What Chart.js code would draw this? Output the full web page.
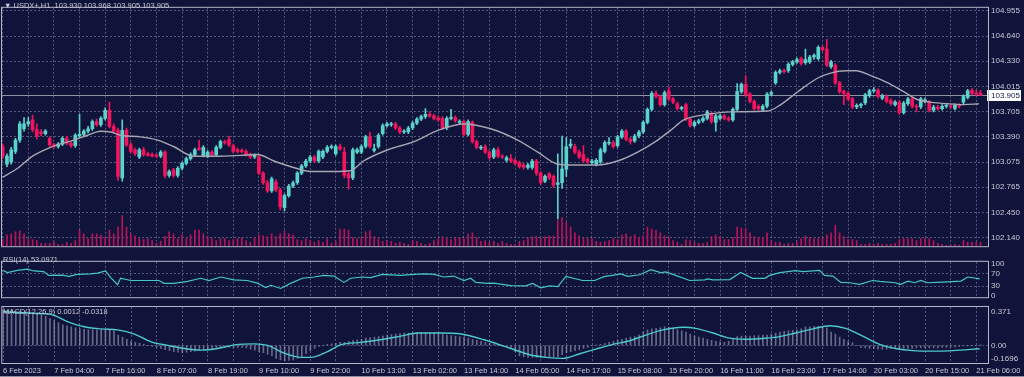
<!DOCTYPE html>
<html lang="en">
<head>
<meta charset="UTF-8">
<title>USDX+ H1</title>
<script src="https://cdn.jsdelivr.net/npm/chart.js"></script>
<style>
  html, body { margin: 0; padding: 0; background: #10133a; }
  #wrap {
    position: relative;
    width: 1024px;
    height: 377px;
    overflow: hidden;
    background: #10133a;
    font-family: "Liberation Sans", Arial, sans-serif;
  }
  #wrap canvas { position: absolute; left: 0; }
  .legend {
    position: absolute;
    color: #c9cad6;
    font-size: 7.5px;
    line-height: 10px;
    white-space: pre;
  }
  .bottom-line { position: absolute; left: 0; top: 376px; width: 1024px; height: 1px; background: #8c8ea4; }
</style>
</head>
<body>
<div id="wrap">
  <canvas id="priceChart" width="1024" height="254" style="top:0;width:1024px;height:254px"></canvas>
  <canvas id="rsiChart" width="1024" height="51" style="top:254px;width:1024px;height:51px"></canvas>
  <canvas id="macdChart" width="1024" height="72" style="top:305px;width:1024px;height:72px"></canvas>
  <div class="legend" style="left:4px;top:1px">▼ USDX+,H1  103.930 103.968 103.905 103.905</div>
  <div class="legend" style="left:3px;top:255px">RSI(14) 53.0971</div>
  <div class="legend" style="left:3px;top:307px">MACD(12,26,9) 0.0012 -0.0318</div>
  <div class="bottom-line"></div>
</div>
<script>
  // ---- data (bar index 0 = 6 Feb 2023) ----
  const xLabels = ["6 Feb 2023", "7 Feb 04:00", "7 Feb 16:00", "8 Feb 07:00", "8 Feb 19:00",
    "9 Feb 10:00", "9 Feb 22:00", "10 Feb 13:00", "13 Feb 02:00", "13 Feb 14:00",
    "14 Feb 05:00", "14 Feb 17:00", "15 Feb 08:00", "15 Feb 20:00", "16 Feb 11:00",
    "16 Feb 23:00", "17 Feb 14:00", "20 Feb 03:00", "20 Feb 15:00", "21 Feb 06:00"];
  const priceTicks = [104.955, 104.640, 104.330, 104.015, 103.705, 103.390, 103.075, 102.765, 102.450, 102.140];
  const rsiTicks = [100, 70, 30, 0];
  const macdTicks = [0.371, 0, -0.1696];
  const macdTickLabels = ["0.371", "0.00", "-0.1696"];

  // [open, high, low, close]
  const ohlc = [
    [103.27,103.30,103.12,103.15],[103.05,103.18,103.02,103.15],[103.08,103.26,103.05,103.23],[103.21,103.37,103.18,103.35],
    [103.35,103.58,103.32,103.55],[103.49,103.63,103.46,103.55],[103.55,103.63,103.52,103.58],[103.60,103.66,103.45,103.48],
    [103.48,103.55,103.36,103.40],[103.45,103.48,103.40,103.43],[103.43,103.48,103.41,103.46],[103.37,103.39,103.27,103.29],
    [103.29,103.31,103.25,103.27],[103.27,103.32,103.25,103.30],[103.30,103.39,103.28,103.37],[103.37,103.40,103.29,103.31],
    [103.31,103.33,103.26,103.28],[103.28,103.43,103.26,103.41],[103.40,103.67,103.38,103.42],[103.42,103.48,103.40,103.46],
    [103.46,103.52,103.44,103.49],[103.49,103.60,103.47,103.58],[103.58,103.61,103.52,103.54],[103.54,103.64,103.52,103.62],
    [103.62,103.75,103.60,103.72],[103.72,103.82,103.50,103.52],[103.52,103.55,103.44,103.46],[103.47,103.50,102.85,102.90],
    [102.88,103.60,102.84,103.47],[103.47,103.50,103.27,103.29],[103.29,103.32,103.19,103.21],[103.23,103.25,103.16,103.18],
    [103.14,103.25,103.12,103.23],[103.23,103.26,103.15,103.17],[103.18,103.20,103.15,103.16],[103.17,103.19,103.14,103.15],
    [103.16,103.18,103.13,103.15],[103.15,103.22,103.13,103.20],[103.20,103.22,102.88,102.91],[102.91,102.98,102.89,102.96],
    [102.98,103.00,102.89,102.91],[102.91,103.02,102.89,103.00],[103.00,103.08,102.98,103.06],[103.06,103.14,103.04,103.12],
    [103.12,103.19,103.10,103.17],[103.17,103.25,103.15,103.23],[103.25,103.35,103.22,103.23],[103.16,103.28,103.14,103.26],
    [103.15,103.22,103.13,103.20],[103.20,103.22,103.15,103.17],[103.17,103.28,103.15,103.26],[103.26,103.35,103.24,103.33],
    [103.33,103.35,103.30,103.32],[103.36,103.40,103.27,103.29],[103.28,103.30,103.19,103.21],[103.23,103.25,103.19,103.21],
    [103.22,103.24,103.19,103.21],[103.21,103.23,103.15,103.17],[103.17,103.19,103.12,103.14],[103.14,103.18,103.12,103.16],
    [103.14,103.16,102.92,102.94],[102.94,102.96,102.80,102.82],[102.82,102.85,102.70,102.72],[102.72,102.89,102.70,102.87],
    [102.83,102.86,102.71,102.73],[102.73,102.75,102.48,102.52],[102.51,102.68,102.47,102.66],[102.66,102.80,102.64,102.78],
    [102.78,102.84,102.76,102.82],[102.82,102.96,102.80,102.94],[102.94,103.05,102.92,103.03],[103.03,103.11,103.01,103.09],
    [103.09,103.16,103.07,103.14],[103.14,103.16,103.07,103.09],[103.09,103.23,103.07,103.21],[103.14,103.23,103.12,103.21],
    [103.21,103.28,103.19,103.26],[103.26,103.29,103.24,103.27],[103.18,103.29,103.16,103.27],[103.27,103.30,103.22,103.24],
    [103.20,103.26,102.88,102.91],[102.93,102.95,102.74,102.88],[102.88,103.25,102.86,103.23],[103.20,103.25,103.18,103.23],
    [103.20,103.29,103.18,103.27],[103.27,103.41,103.25,103.39],[103.39,103.45,103.25,103.27],[103.22,103.30,103.20,103.24],
    [103.27,103.43,103.25,103.41],[103.43,103.55,103.41,103.53],[103.53,103.57,103.51,103.55],[103.54,103.57,103.52,103.55],
    [103.55,103.57,103.48,103.50],[103.50,103.52,103.43,103.45],[103.45,103.48,103.43,103.46],[103.45,103.52,103.43,103.50],
    [103.50,103.58,103.48,103.56],[103.56,103.63,103.54,103.61],[103.61,103.66,103.59,103.64],[103.64,103.74,103.62,103.67],
    [103.67,103.70,103.63,103.65],[103.65,103.67,103.60,103.62],[103.62,103.65,103.58,103.60],[103.62,103.64,103.48,103.50],
    [103.50,103.64,103.48,103.62],[103.62,103.73,103.60,103.63],[103.63,103.65,103.57,103.59],[103.57,103.60,103.55,103.58],
    [103.58,103.60,103.40,103.42],[103.42,103.60,103.40,103.58],[103.57,103.59,103.31,103.33],[103.33,103.35,103.24,103.26],
    [103.25,103.28,103.23,103.26],[103.27,103.29,103.18,103.20],[103.20,103.22,103.11,103.13],[103.14,103.25,103.12,103.23],
    [103.23,103.26,103.13,103.15],[103.15,103.17,103.12,103.14],[103.10,103.15,103.08,103.13],[103.12,103.17,103.07,103.09],
    [103.10,103.12,103.04,103.06],[103.07,103.09,103.00,103.02],[103.04,103.06,102.99,103.01],[103.01,103.06,102.99,103.04],
    [103.01,103.11,102.99,103.09],[103.09,103.11,102.91,102.94],[102.94,102.96,102.80,102.82],[102.84,102.92,102.82,102.90],
    [102.93,102.95,102.86,102.88],[102.90,102.92,102.76,102.79],[102.80,103.18,102.37,102.82],[102.82,103.40,102.75,102.99],
    [102.99,103.38,102.90,103.27],[103.28,103.36,103.25,103.30],[103.27,103.30,103.18,103.20],[103.20,103.23,103.12,103.14],
    [103.17,103.28,103.07,103.09],[103.11,103.13,103.06,103.08],[103.07,103.11,103.05,103.09],[103.05,103.12,103.03,103.10],
    [103.08,103.25,103.06,103.23],[103.21,103.34,103.19,103.32],[103.31,103.38,103.29,103.32],[103.32,103.34,103.25,103.27],
    [103.28,103.41,103.26,103.39],[103.39,103.48,103.37,103.46],[103.46,103.48,103.34,103.36],[103.36,103.38,103.30,103.33],
    [103.34,103.42,103.32,103.40],[103.40,103.47,103.38,103.45],[103.45,103.59,103.43,103.57],[103.57,103.75,103.55,103.73],
    [103.73,103.95,103.71,103.93],[103.93,103.96,103.87,103.89],[103.89,103.91,103.77,103.79],[103.79,103.96,103.77,103.94],
    [103.96,104.01,103.84,103.86],[103.86,103.88,103.80,103.82],[103.80,103.82,103.72,103.74],[103.74,103.77,103.72,103.75],
    [103.79,103.81,103.59,103.61],[103.61,103.63,103.51,103.53],[103.53,103.59,103.51,103.57],[103.57,103.61,103.55,103.59],
    [103.59,103.64,103.57,103.62],[103.62,103.72,103.60,103.70],[103.68,103.70,103.56,103.58],[103.57,103.67,103.46,103.65],
    [103.62,103.67,103.60,103.65],[103.65,103.67,103.60,103.62],[103.62,103.64,103.58,103.60],[103.60,103.75,103.58,103.73],
    [103.73,104.05,103.71,103.95],[103.95,104.06,103.93,104.04],[104.04,104.15,103.89,103.91],[103.92,103.94,103.81,103.83],
    [103.83,103.85,103.72,103.74],[103.77,103.79,103.72,103.74],[103.73,103.79,103.71,103.77],[103.77,103.94,103.75,103.92],
    [103.92,103.96,103.90,103.94],[104.06,104.21,104.04,104.19],[104.19,104.23,104.17,104.21],[104.21,104.23,104.18,104.20],
    [104.21,104.31,104.19,104.29],[104.29,104.34,104.27,104.32],[104.32,104.37,104.30,104.35],[104.36,104.38,104.28,104.30],
    [104.31,104.48,104.29,104.35],[104.32,104.40,104.30,104.38],[104.38,104.42,104.35,104.40],[104.36,104.52,104.34,104.50],
    [104.50,104.52,104.45,104.47],[104.48,104.60,104.26,104.28],[104.26,104.34,104.24,104.32],[104.28,104.30,104.04,104.06],
    [104.06,104.08,103.93,103.95],[103.95,103.97,103.79,103.93],[103.93,103.95,103.84,103.86],[103.86,103.88,103.74,103.76],
    [103.76,103.80,103.74,103.78],[103.78,103.81,103.75,103.78],[103.81,103.93,103.79,103.91],[103.90,103.98,103.88,103.96],
    [103.96,104.00,103.94,103.97],[103.97,103.99,103.87,103.89],[103.87,103.92,103.85,103.90],[103.89,103.91,103.81,103.83],
    [103.84,103.86,103.78,103.80],[103.79,103.84,103.77,103.82],[103.82,103.84,103.67,103.69],[103.69,103.83,103.67,103.81],
    [103.80,103.88,103.78,103.86],[103.86,103.88,103.75,103.77],[103.77,103.79,103.70,103.76],[103.76,103.88,103.74,103.86],
    [103.83,103.87,103.81,103.85],[103.82,103.84,103.70,103.72],[103.72,103.78,103.70,103.76],[103.76,103.78,103.72,103.74],
    [103.74,103.79,103.72,103.77],[103.77,103.79,103.75,103.77],[103.77,103.79,103.74,103.76],[103.74,103.80,103.72,103.78],
    [103.78,103.80,103.75,103.77],[103.82,103.91,103.80,103.89],[103.88,103.98,103.86,103.96],[103.97,103.99,103.91,103.93],
    [103.93,103.97,103.90,103.92],[103.930,103.968,103.905,103.905]
  ];

  // tick volume (hundreds)
  const volumes = [
    7,12,13,15,16,13,8,7,6,3, 3,3,5,2,2,4,3,6,17,13, 8,13,13,12,9,17,13,20,32,20,
    13,11,8,7,8,6,3,5,10,15, 13,8,12,8,12,17,17,13,10,8, 6,8,8,6,7,8,9,6,4,9,
    12,11,10,13,10,13,16,13,12,7, 6,8,6,4,6,4,8,3,5,18, 18,17,9,8,9,15,16,10,8,5,
    6,5,3,4,3,2,6,5,3,2, 3,6,8,10,8,7,9,9,8,13, 14,9,5,6,4,5,3,5,3,2,
    2,5,6,9,10,10,8,10,11,11, 27,30,25,20,14,11,8,8,8,5, 4,5,6,8,7,12,13,10,12,9,
    11,20,18,17,14,11,9,6,4,2, 7,6,4,3,3,4,10,12,10,7, 7,9,20,19,19,14,10,9,9,14,
    6,4,4,2,3,3,5,8,11,9, 8,8,9,12,14,22,14,10,7,7, 6,2,2,3,2,3,2,2,2,3,
    7,8,8,8,6,8,8,8,6,3, 2,1,1,2,1,6,4,4,4,4
  ];

  // gray moving average, [bar index, price]
  const maPoints = [
    [0,102.89],[3.5,103.00],[7,103.15],[11.2,103.26],[16.6,103.35],[19.9,103.41],[22.9,103.46],[25.3,103.45],
    [27.6,103.41],[32.3,103.39],[36.3,103.35],[40,103.27],[44.7,103.15],[50.4,103.15],[55.7,103.16],[59.7,103.17],
    [63.5,103.09],[68.1,103.01],[72.1,102.96],[77.5,102.96],[81.5,102.97],[84.5,103.09],[90.2,103.23],[96.3,103.33],
    [101.9,103.47],[108,103.55],[114.3,103.49],[120.6,103.35],[125.3,103.20],[130,103.05],[133,103.04],[139.3,103.04],
    [144,103.09],[148.7,103.20],[153.4,103.35],[156.4,103.47],[159.5,103.60],[165.1,103.67],[170.5,103.70],[179.2,103.71],
    [182.2,103.79],[186.2,103.95],[190.9,104.12],[193.9,104.18],[197.4,104.21],[199.8,104.21],[203.3,104.15],[207.3,104.06],
    [211,103.95],[214.3,103.85],[217.3,103.82],[221.3,103.80],[225,103.79],[228.6,103.80]
  ];

  // RSI(14), [bar index, value]
  const rsiPoints = [
    [0,80],[1.1,73],[3.4,80],[5.8,84],[7.3,78],[9.6,76],[10.8,64],[14,65],[15.5,61],[17.5,67],[20.6,69],[22.2,71],
    [24.1,78],[25.3,57],[26.9,35],[27.6,55],[30,48],[36.6,48],[37.8,39],[40.1,39],[43.3,45],[46.4,55],[48.3,48],
    [51.1,59],[54.1,50],[57.3,48],[59.6,40],[61.6,26],[62.8,33],[65.1,23],[67.4,39],[70.2,55],[72.9,59],[75.2,64],
    [77.6,62],[79.9,42],[81.5,55],[84.2,59],[86.2,57],[88.9,67],[93.2,64],[96.3,67],[99,69],[101,67],[103.3,59],
    [105.6,62],[108,48],[109.6,55],[110.8,42],[113.6,39],[115,40],[119,32],[122.5,31],[124.1,39],[126,25],[128.1,31],
    [130,29],[131.9,61],[135.8,48],[138.6,48],[141,61],[142.8,64],[144.7,69],[146.4,61],[149.2,66],[151.8,82],
    [154.1,73],[155.3,75],[157.6,64],[160.9,48],[164.4,50],[165.1,53],[166.3,50],[170.3,51],[172.8,73],[175.6,55],
    [178.5,55],[179.6,64],[182,73],[185.7,79],[187.4,76],[191.3,80],[192.5,64],[194.4,62],[196.3,42],[198.4,41],
    [200.7,36],[203.7,48],[205.4,45],[209.1,41],[210.2,35],[212,46],[213.6,41],[215,48],[216.6,41],[220.1,43],
    [224.4,46],[226,59],[228.8,53.1]
  ];

  // MACD(12,26,9) main histogram, one value per bar
  const macdHist = [
    0.34,0.34,0.34,0.33,0.33,0.32,0.32,0.31,0.31,0.30,
    0.28,0.26,0.24,0.22,0.20,0.19,0.18,0.17,0.16,0.155,
    0.15,0.15,0.15,0.15,0.15,0.15,0.14,0.10,0.08,0.06,
    0.04,0.03,0.02,0.01,0.00,-0.01,-0.02,-0.03,-0.04,-0.05,
    -0.06,-0.065,-0.07,-0.065,-0.06,-0.055,-0.045,-0.04,-0.035,-0.03,
    -0.03,-0.025,-0.02,-0.02,-0.02,-0.02,-0.02,-0.025,-0.035,-0.045,
    -0.06,-0.07,-0.085,-0.10,-0.125,-0.14,-0.15,-0.145,-0.14,-0.125,
    -0.11,-0.08,-0.05,-0.03,-0.01,0.00,0.01,0.015,0.02,0.03,
    0.03,0.04,0.05,0.055,0.06,0.07,0.075,0.08,0.085,0.09,
    0.10,0.105,0.11,0.115,0.12,0.12,0.12,0.125,0.125,0.125,
    0.125,0.125,0.12,0.11,0.10,0.095,0.09,0.085,0.08,0.07,
    0.06,0.05,0.04,0.03,0.02,0.01,0.00,-0.01,-0.015,-0.02,
    -0.06,-0.10,-0.11,-0.115,-0.115,-0.115,-0.115,-0.115,-0.115,-0.11,
    -0.11,-0.09,-0.07,-0.06,-0.05,-0.04,-0.03,-0.02,0.00,0.005,
    0.01,0.02,0.03,0.04,0.05,0.06,0.07,0.08,0.085,0.10,
    0.13,0.15,0.16,0.165,0.17,0.18,0.175,0.165,0.15,0.14,
    0.13,0.11,0.09,0.08,0.07,0.06,0.05,0.04,0.035,0.03,
    0.04,0.06,0.085,0.09,0.09,0.09,0.095,0.095,0.10,0.10,
    0.11,0.12,0.13,0.135,0.14,0.145,0.15,0.16,0.18,0.18,
    0.185,0.185,0.18,0.17,0.13,0.11,0.08,0.06,0.04,0.025,
    0.00,-0.02,-0.025,-0.03,-0.03,-0.035,-0.035,-0.035,-0.03,-0.03,
    -0.03,-0.03,-0.03,-0.03,-0.025,-0.025,-0.025,-0.025,-0.025,-0.025,
    -0.02,-0.02,-0.015,-0.015,-0.01,-0.005,-0.005,0.00,0.00,0.0012
  ];

  // MACD signal line, [bar index, value]
  const macdSignal = [
    [0,0.325],[7.3,0.31],[11.2,0.30],[15.1,0.23],[19,0.18],[22.9,0.16],[26.9,0.15],[30.8,0.11],[34.7,0.035],
    [38.6,0.00],[42.5,-0.03],[46.4,-0.045],[50.3,-0.03],[54.2,0.005],[58.9,0.015],[62,0.00],[65.9,-0.075],
    [69.8,-0.115],[72.1,-0.115],[76,-0.06],[79.1,0.005],[83.8,0.03],[88.5,0.055],[93.2,0.09],[97.1,0.12],
    [102.6,0.12],[107.3,0.11],[112.7,0.055],[119,-0.03],[123.4,-0.09],[127.2,-0.115],[131.1,-0.125],[135.1,-0.08],
    [138.9,-0.035],[142.9,0.01],[146.8,0.045],[150.6,0.10],[154.6,0.15],[159.3,0.175],[162.3,0.165],[166.3,0.12],
    [170.3,0.07],[174,0.06],[178.7,0.07],[182,0.085],[185.7,0.12],[189.7,0.16],[193.7,0.19],[197.4,0.165],
    [201.4,0.09],[205.4,0.01],[209.1,-0.03],[213.1,-0.05],[217.8,-0.055],[222.5,-0.05],[228.8,-0.0318]
  ];

  // ---- look ----
  const BULL = "#5bd3cc";
  const BEAR = "#f4145e";
  const VOL = "#b8145a";
  const MA_COLOR = "#a6a7b2";
  const RSI_COLOR = "#45c6c8";
  const SIGNAL_COLOR = "#4cc9cd";
  const HIST_COLOR = "rgba(175,177,200,0.55)";
  const GRID = "rgba(140,143,172,0.55)";
  const FRAME = "#b5b7c8";
  const TEXT = "#c9cad6";
  const AXIS_W = 36;
  const X_MIN = -0.16, X_MAX = 230.75;
  const LABEL_EVERY = 12, GRID_EVERY = 6;

  Chart.defaults.font.family = '"Liberation Sans", Arial, sans-serif';
  Chart.defaults.font.size = 8;
  Chart.defaults.color = TEXT;

  const lastClose = ohlc[ohlc.length - 1][3];
  const candleColors = ohlc.map(c => c[3] >= c[0] ? BULL : BEAR);
  const gridIdx = [];
  for (let i = 0; i <= (xLabels.length - 1) * LABEL_EVERY; i += GRID_EVERY) gridIdx.push(i);

  function xAxis(showLabels) {
    return {
      type: "linear",
      position: "bottom",
      min: X_MIN,
      max: X_MAX,
      offset: false,
      afterBuildTicks: s => { s.ticks = gridIdx.map(v => ({ value: v })); },
      afterFit: s => { s.height = showLabels ? 14 : 0; },
      grid: { color: GRID, drawTicks: false, offset: false },
      border: { display: false, dash: [2, 2] },
      ticks: {
        display: showLabels,
        autoSkip: false,
        maxRotation: 0,
        minRotation: 0,
        align: "start",
        padding: 3,
        color: TEXT,
        font: { size: 7.5 },
        callback: v => (v % LABEL_EVERY === 0 ? xLabels[v / LABEL_EVERY] : "")
      }
    };
  }

  const framePlugin = {
    id: "frame",
    afterDraw(chart) {
      const { ctx, chartArea: a } = chart;
      ctx.save();
      ctx.strokeStyle = FRAME;
      ctx.lineWidth = 1;
      ctx.strokeRect(a.left - 0.5, a.top - 0.5, a.right - a.left + 1, a.bottom - a.top + 1);
      ctx.restore();
    }
  };

  const priceLinePlugin = {
    id: "priceLine",
    beforeDatasetsDraw(chart) {
      const { ctx, chartArea: a, scales: { y } } = chart;
      const py = Math.round(y.getPixelForValue(lastClose)) + 0.5;
      ctx.save();
      ctx.strokeStyle = "#8f91a3";
      ctx.lineWidth = 1;
      ctx.beginPath();
      ctx.moveTo(a.left, py);
      ctx.lineTo(a.right, py);
      ctx.stroke();
      ctx.restore();
    },
    afterDraw(chart) {
      const { ctx, chartArea: a, scales: { y } } = chart;
      const py = Math.round(y.getPixelForValue(lastClose));
      ctx.save();
      ctx.fillStyle = "#ffffff";
      ctx.fillRect(a.right - 1, py - 5, 34, 11);
      ctx.fillStyle = "#10133a";
      ctx.textBaseline = "middle";
      ctx.textAlign = "left";
      ctx.font = '8px "Liberation Sans", Arial, sans-serif';
      ctx.fillText(lastClose.toFixed(3), a.right + 3, py + 0.5);
      ctx.restore();
    }
  };

  const macdLabelPlugin = {
    id: "macdLabels",
    afterDraw(chart) {
      const { ctx, chartArea: a, scales: { y } } = chart;
      ctx.save();
      ctx.fillStyle = TEXT;
      ctx.textAlign = "left";
      ctx.font = '8px "Liberation Sans", Arial, sans-serif';
      macdTicks.forEach((v, i) => {
        let py = y.getPixelForValue(v);
        if (i === 0) { ctx.textBaseline = "top"; py += 1; }
        else if (i === macdTicks.length - 1) { ctx.textBaseline = "bottom"; }
        else { ctx.textBaseline = "middle"; }
        ctx.fillText(macdTickLabels[i], a.right + 3, py);
      });
      ctx.restore();
    }
  };

  const common = {
    responsive: false,
    animation: false,
    events: [],
    plugins: { legend: { display: false }, tooltip: { enabled: false } }
  };

  // price pane
  new Chart(document.getElementById("priceChart"), {
    type: "bar",
    data: {
      datasets: [
        {
          type: "line",
          data: maPoints.map(p => ({ x: p[0], y: p[1] })),
          borderColor: MA_COLOR,
          borderWidth: 1.4,
          pointRadius: 0,
          cubicInterpolationMode: "monotone",
          yAxisID: "y",
          order: 1
        },
        {
          data: ohlc.map((c, i) => ({ x: i, y: [c[0], c[3]] })),
          backgroundColor: candleColors,
          barThickness: 3,
          minBarLength: 1,
          grouped: false,
          yAxisID: "y",
          order: 2
        },
        {
          data: ohlc.map((c, i) => ({ x: i, y: [c[2], c[1]] })),
          backgroundColor: candleColors,
          barThickness: 1,
          grouped: false,
          yAxisID: "y",
          order: 3
        },
        {
          data: volumes.map((v, i) => ({ x: i, y: v })),
          backgroundColor: VOL,
          barThickness: 1,
          grouped: false,
          yAxisID: "yv",
          order: 5
        }
      ]
    },
    options: {
      ...common,
      layout: { padding: { left: 2, right: 0, top: 2, bottom: 2 } },
      scales: {
        x: xAxis(false),
        y: {
          type: "linear",
          position: "right",
          min: 102.033,
          max: 104.991,
          beginAtZero: false,
          afterBuildTicks: s => { s.ticks = priceTicks.map(v => ({ value: v })); },
          afterFit: s => { s.width = AXIS_W; },
          grid: { color: GRID, drawTicks: false },
          border: { display: false, dash: [2, 2] },
          ticks: { padding: 3, color: TEXT, callback: v => v.toFixed(3) }
        },
        yv: { type: "linear", display: false, min: 0, max: 250 }
      }
    },
    plugins: [priceLinePlugin, framePlugin]
  });

  // RSI pane
  new Chart(document.getElementById("rsiChart"), {
    type: "line",
    data: {
      datasets: [{
        data: rsiPoints.map(p => ({ x: p[0], y: p[1] })),
        borderColor: RSI_COLOR,
        borderWidth: 1.2,
        pointRadius: 0,
        tension: 0
      }]
    },
    options: {
      ...common,
      layout: { padding: { left: 2, right: 0, top: 1, bottom: 1 } },
      scales: {
        x: xAxis(false),
        y: {
          type: "linear",
          position: "right",
          min: -4.5,
          max: 106.8,
          afterBuildTicks: s => { s.ticks = rsiTicks.map(v => ({ value: v })); },
          afterFit: s => { s.width = AXIS_W; },
          grid: {
            drawTicks: false,
            color: ctx => (ctx.tick && (ctx.tick.value === 30 || ctx.tick.value === 70)) ? GRID : "rgba(0,0,0,0)"
          },
          border: { display: false, dash: [2, 2] },
          ticks: { padding: 3, color: TEXT, callback: v => String(v) }
        }
      }
    },
    plugins: [framePlugin]
  });

  // MACD pane + time axis
  new Chart(document.getElementById("macdChart"), {
    type: "bar",
    data: {
      datasets: [
        {
          type: "line",
          data: macdSignal.map(p => ({ x: p[0], y: p[1] })),
          borderColor: SIGNAL_COLOR,
          borderWidth: 1.4,
          pointRadius: 0,
          cubicInterpolationMode: "monotone",
          order: 1
        },
        {
          data: macdHist.map((v, i) => ({ x: i, y: v })),
          backgroundColor: HIST_COLOR,
          barThickness: 1,
          grouped: false,
          order: 2
        }
      ]
    },
    options: {
      ...common,
      layout: { padding: { left: 2, right: 0, top: 2, bottom: 0 } },
      scales: {
        x: xAxis(true),
        y: {
          type: "linear",
          position: "right",
          min: -0.1696,
          max: 0.371,
          beginAtZero: false,
          afterBuildTicks: s => { s.ticks = macdTicks.map(v => ({ value: v })); },
          afterFit: s => { s.width = AXIS_W; },
          grid: {
            drawTicks: false,
            color: ctx => (ctx.tick && ctx.tick.value === 0) ? GRID : "rgba(0,0,0,0)"
          },
          border: { display: false, dash: [2, 2] },
          ticks: { display: false }
        }
      }
    },
    plugins: [macdLabelPlugin, framePlugin]
  });
</script>
</body>
</html>
